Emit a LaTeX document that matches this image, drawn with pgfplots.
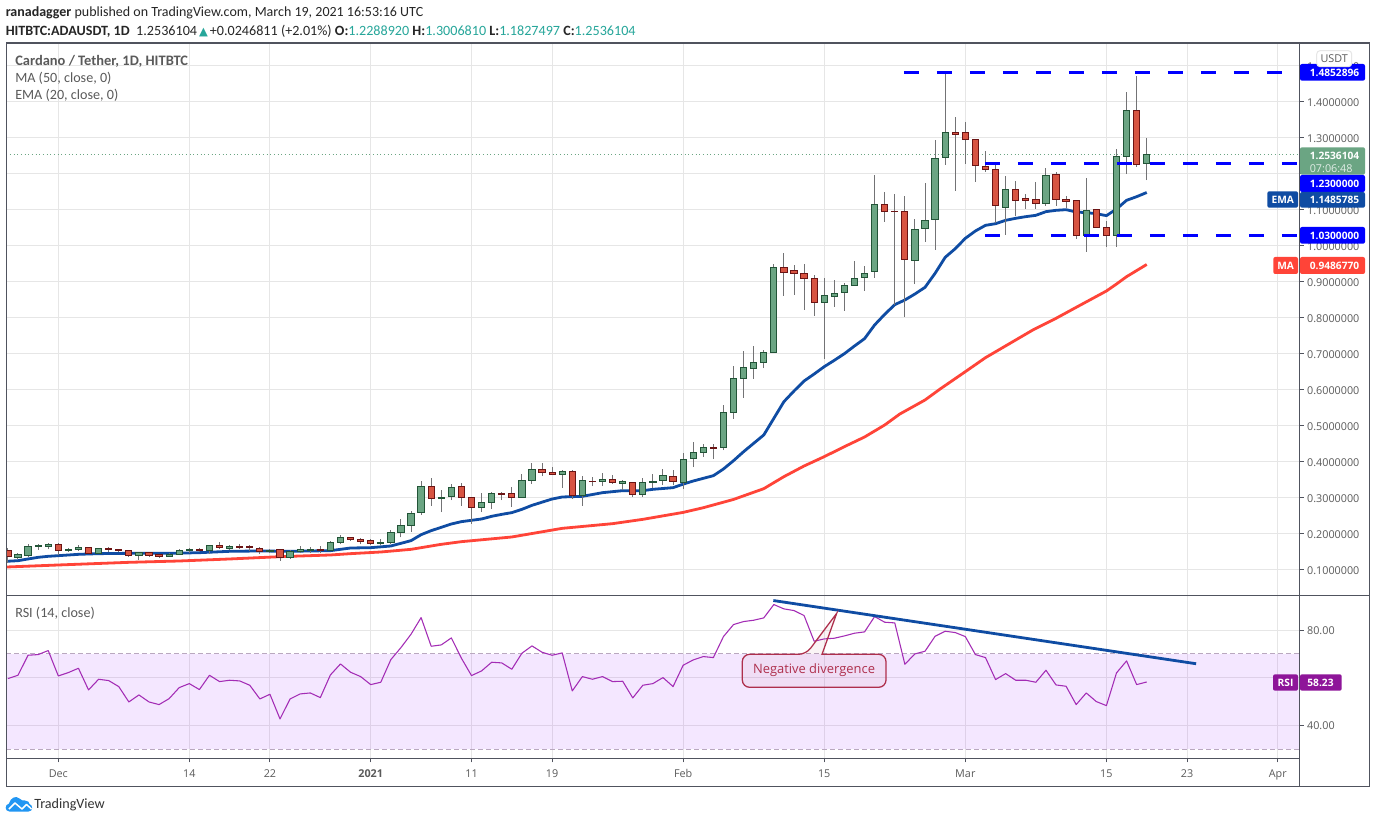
\documentclass[border=0pt]{standalone}
\usepackage{fontspec}
\setmainfont{Carlito}
\newfontfamily\tickfamily{Open Sans}
\newfontfamily\symfamily{DejaVu Sans}
\usepackage{pgfplots}
\pgfplotsset{compat=1.18}

\definecolor{gridc}{HTML}{E6E6E6}
\definecolor{axisc}{HTML}{50535E}
\definecolor{labelc}{HTML}{5A5A5A}
\definecolor{upfill}{HTML}{6BA583}
\definecolor{upline}{HTML}{225437}
\definecolor{dnfill}{HTML}{D75442}
\definecolor{dnline}{HTML}{6B1414}
\definecolor{wick}{HTML}{737375}
\definecolor{emac}{HTML}{0F4CA3}
\definecolor{mac}{HTML}{FF4438}
\definecolor{rsic}{HTML}{A32CB5}
\definecolor{rsitag}{HTML}{8E1599}
\definecolor{bandc}{HTML}{9915FF}
\definecolor{bandline}{HTML}{B9A8BF}
\definecolor{lvl}{HTML}{0000FF}
\definecolor{callc}{HTML}{AE2F4C}
\definecolor{teal}{HTML}{26A69A}
\definecolor{logoc}{HTML}{2196F3}

\newcommand{\tickf}{\tickfamily\fontsize{8.1pt}{9pt}\selectfont}
\newcommand{\tagf}{\tickfamily\bfseries\fontsize{7.65pt}{9pt}\selectfont}
\newcommand{\headf}{\fontsize{10.6pt}{12pt}\selectfont}

\pgfplotsset{
  tv axis/.style={
    scale only axis,
    width=970.05pt,
    xmin=-5.16,xmax=123.18,
    xtick={0,13,21,31,41,49,62,76,90,104,112,121},
    grid=major,
    grid style={gridc,line width=0.75pt},
    axis line style={axisc,line width=0.9pt},
    tick align=outside,
    major tick length=3pt,
    tick style={axisc,line width=0.75pt},
    ytick pos=right,
    yticklabel pos=right,
    yticklabel style={font=\tickf,text=labelc,anchor=west,xshift=-1pt,yshift=-0.4pt},
  },
}
% day, open, high, low, close
\newcommand{\candlebody}[5]{%
  \pgfmathsetmacro{\xa}{#3-0.31}\pgfmathsetmacro{\xb}{#3+0.31}%
  \addplot[draw=#1,fill=#2,line width=0.75pt] coordinates {(\xa,#4) (\xb,#4) (\xb,#5) (\xa,#5)} -- cycle;}
\newcommand{\candleup}[5]{%
  \addplot[wick,line width=0.75pt] coordinates {(#1,#4) (#1,#3)};
  \candlebody{upline}{upfill}{#1}{#2}{#5}}
\newcommand{\candledn}[5]{%
  \addplot[wick,line width=0.75pt] coordinates {(#1,#4) (#1,#3)};
  \candlebody{dnline}{dnfill}{#1}{#2}{#5}}

\begin{document}
\begin{tikzpicture}
\path[use as bounding box,fill=white] (0,0) rectangle (1032pt,-617.25pt);

% price pane, x is days from 1 Dec 2020
\begin{axis}[tv axis,
  at={(4.725pt,-32.25pt)},anchor=north west,
  height=414.225pt,
  ymin=0.0297,ymax=1.5639,
  xticklabels={},
  xtick style={draw=none},
  ytick={0.1,0.2,0.3,0.4,0.5,0.6,0.7,0.8,0.9,1.0,1.1,1.2,1.3,1.4,1.5},
  yticklabels={0.1000000,0.2000000,0.3000000,0.4000000,0.5000000,0.6000000,0.7000000,0.8000000,0.9000000,1.0000000,1.1000000,,1.3000000,1.4000000,1.5000000},
]
\addplot[upfill,line width=0.75pt,dotted] coordinates {(-5.16,1.2536) (123.18,1.2536)};
% 20 EMA
\addplot[emac,line width=2.1pt,line join=round] coordinates {
(-5.15,.1241)(-4,.1259)(-3,.1306)(-2,.1352)(-1,.138)(0,.1398)(2,.1435)(4,.1454)(7,.1463)(11,.1463)(14,.1481)(17,.1519)(20,.1528)(23,.1519)(27,.1537)
(29,.1611)(31,.162)(33,.1667)(35,.1815)(36,.1981)(37,.2093)(39,.2278)(40,.2343)(42,.2417)(43,.2491)(44,.2546)(45,.2593)(46,.2685)(47,.2796)(49,.2972)(50,.3028)(52,.3046)(54,.3148)(56,.3204)(58,.3204)(59,.3241)(61,.3287)
(62,.3385)(63,.3472)(65,.362)(66,.3806)(67,.4037)(68,.4287)(69,.4519)(70,.475)(71,.5213)(72,.5676)(73,.5972)(74,.625)(75,.6444)(76,.6648)(77,.6824)(78,.7009)(79,.7222)(80,.7426)(81,.7806)(82,.8102)
(83,.837)(84,.85)(85,.8667)(86,.8852)(87,.9241)(88,.9685)(89,.9926)(90,1.0213)(91,1.0417)(92,1.0574)(93,1.062)(94,1.0713)(95,1.0769)(96,1.0815)(97,1.0852)(98,1.0954)(99,1.0991)(100,1.1009)(101,1.0944)(102,1.0926)(103,1.0898)(104,1.0843)(105,1.1028)(106,1.1269)(107,1.137)(108,1.1486)
};
% 50 MA
\addplot[mac,line width=2.1pt,line join=round] coordinates {
(-5.15,.1083)(0,.1139)(7,.1213)(12,.125)(17,.1306)(22,.137)(27,.1417)(29,.1454)(32,.15)(35,.1574)(38,.1713)(40,.1787)(45,.1917)(50,.2157)(55,.2287)(58,.2407)(62,.26)(64,.273)(67,.296)(70,.3259)
(72,.3593)(74,.3889)(76,.4148)(78,.4426)(80,.4694)(82,.5028)(83.5,.5333)(86,.5722)(87.5,.6028)(90,.6509)(92,.6898)(95,.7389)(96.7,.7667)(99,.7991)(101,.8296)(104,.875)(105,.8944)(106,.9148)(108,.9487)
};
\candledn{-5}{.1546}{.1602}{.1185}{.1380}
\candleup{-4}{.1361}{.1463}{.1296}{.1417}
\candleup{-3}{.1398}{.1722}{.1370}{.1657}
\candleup{-2}{.1648}{.1722}{.1556}{.1667}
\candleup{-1}{.1648}{.1750}{.1583}{.1713}
\candledn{0}{.1713}{.1750}{.1417}{.1537}
\candleup{1}{.1537}{.1611}{.1500}{.1583}
\candleup{2}{.1565}{.1685}{.1528}{.1630}
\candledn{3}{.1630}{.1630}{.1454}{.1454}
\candleup{4}{.1454}{.1602}{.1454}{.1602}
\candledn{5}{.1611}{.1639}{.1491}{.1565}
\candledn{6}{.1583}{.1583}{.1500}{.1537}
\candledn{7}{.1546}{.1546}{.1370}{.1398}
\candleup{8}{.1398}{.1491}{.1278}{.1491}
\candledn{9}{.1491}{.1491}{.1370}{.1398}
\candledn{10}{.1417}{.1417}{.1333}{.1370}
\candleup{11}{.1370}{.1463}{.1370}{.1435}
\candleup{12}{.1426}{.1574}{.1426}{.1546}
\candleup{13}{.1537}{.1602}{.1472}{.1583}
\candledn{14}{.1583}{.1611}{.1500}{.1537}
\candleup{15}{.1537}{.1685}{.1444}{.1685}
\candledn{16}{.1685}{.1768}{.1583}{.1620}
\candleup{17}{.1611}{.1685}{.1546}{.1657}
\candledn{18}{.1657}{.1713}{.1583}{.1620}
\candledn{19}{.1639}{.1685}{.1528}{.1620}
\candledn{20}{.1602}{.1648}{.1444}{.1519}
\candleup{21}{.1519}{.1583}{.1472}{.1546}
\candledn{22}{.1574}{.1574}{.1259}{.1352}
\candleup{23}{.1352}{.1546}{.1306}{.1519}
\candleup{24}{.1519}{.1657}{.1472}{.1574}
\candleup{25}{.1546}{.1630}{.1472}{.1565}
\candledn{26}{.1574}{.1657}{.1472}{.1537}
\candleup{27}{.1546}{.1796}{.1519}{.1768}
\candleup{28}{.1759}{.1972}{.1722}{.1907}
\candledn{29}{.1907}{.1926}{.1806}{.1843}
\candledn{30}{.1852}{.1880}{.1722}{.1787}
\candledn{31}{.1824}{.1852}{.1694}{.1731}
\candleup{32}{.1731}{.1852}{.1694}{.1769}
\candleup{33}{.1769}{.2102}{.1722}{.2046}
\candleup{34}{.2037}{.2417}{.1907}{.2241}
\candleup{35}{.2232}{.2639}{.2056}{.2574}
\candleup{36}{.2593}{.3472}{.2528}{.3324}
\candledn{37}{.3324}{.3556}{.2778}{.2981}
\candleup{38}{.2981}{.3222}{.2611}{.3019}
\candleup{39}{.3046}{.3380}{.2944}{.3296}
\candledn{40}{.3324}{.3417}{.2778}{.3009}
\candledn{41}{.3019}{.3019}{.2278}{.2731}
\candleup{42}{.2731}{.3139}{.2611}{.2880}
\candleup{43}{.2880}{.3167}{.2694}{.3130}
\candledn{44}{.3130}{.3157}{.2944}{.3093}
\candledn{45}{.3130}{.3306}{.2750}{.3009}
\candleup{46}{.3009}{.3667}{.3009}{.3491}
\candleup{47}{.3482}{.3972}{.3389}{.3796}
\candledn{48}{.3796}{.3972}{.3611}{.3704}
\candledn{49}{.3713}{.3861}{.3639}{.3648}
\candleup{50}{.3648}{.3769}{.3278}{.3741}
\candledn{51}{.3741}{.3769}{.2981}{.3065}
\candleup{52}{.3065}{.3611}{.2778}{.3491}
\candledn{53}{.3472}{.3583}{.3333}{.3445}
\candleup{54}{.3454}{.3695}{.3333}{.3519}
\candledn{55}{.3519}{.3639}{.3389}{.3426}
\candleup{56}{.3398}{.3500}{.3222}{.3445}
\candledn{57}{.3435}{.3435}{.3028}{.3093}
\candleup{58}{.3093}{.3556}{.3028}{.3435}
\candleup{59}{.3426}{.3667}{.3269}{.3472}
\candleup{60}{.3482}{.3806}{.3361}{.3630}
\candledn{61}{.3602}{.3778}{.3361}{.3454}
\candleup{62}{.3426}{.4241}{.3241}{.4074}
\candleup{63}{.4093}{.4556}{.3861}{.4269}
\candleup{64}{.4259}{.4500}{.4139}{.4407}
\candledn{65}{.4407}{.4500}{.4083}{.4370}
\candleup{66}{.4398}{.5584}{.4333}{.5380}
\candleup{67}{.5370}{.6667}{.5195}{.6324}
\candleup{68}{.6324}{.7084}{.5778}{.6630}
\candleup{69}{.6593}{.7223}{.6315}{.6769}
\candleup{70}{.6769}{.7111}{.6611}{.7047}
\candleup{71}{.7047}{.9500}{.7047}{.9408}
\candledn{72}{.9408}{.9806}{.8621}{.9260}
\candledn{73}{.9325}{.9473}{.8649}{.9232}
\candledn{74}{.9241}{.9500}{.8232}{.9093}
\candledn{75}{.9102}{.9195}{.8056}{.8436}
\candleup{76}{.8436}{.9112}{.6861}{.8612}
\candleup{77}{.8593}{.9056}{.8306}{.8686}
\candleup{78}{.8704}{.8973}{.8204}{.8908}
\candleup{79}{.8908}{.9584}{.8908}{.9102}
\candleup{80}{.9121}{.9445}{.8760}{.9241}
\candleup{81}{.9297}{1.197}{.9112}{1.1139}
\candledn{82}{1.1157}{1.1500}{1.0667}{1.0954}
\candledn{83}{1.0972}{1.1445}{.8361}{1.0954}
\candledn{84}{1.0963}{1.1389}{.8037}{.9630}
\candleup{85}{.9602}{1.0750}{.8944}{1.0463}
\candleup{86}{1.0491}{1.1750}{1.0120}{1.0713}
\candleup{87}{1.0741}{1.2945}{.9889}{1.2435}
\candleup{88}{1.2463}{1.4778}{1.2259}{1.3158}
\candledn{89}{1.3158}{1.3583}{1.1537}{1.3102}
\candledn{90}{1.3158}{1.3445}{1.2287}{1.2963}
\candledn{91}{1.2963}{1.2963}{1.1787}{1.2241}
\candledn{92}{1.2213}{1.2639}{1.2065}{1.2130}
\candledn{93}{1.2130}{1.2250}{1.0630}{1.1130}
\candleup{94}{1.1074}{1.1945}{1.0315}{1.1574}
\candledn{95}{1.1574}{1.1806}{1.0843}{1.1269}
\candledn{96}{1.1324}{1.1445}{1.1028}{1.1269}
\candledn{97}{1.1296}{1.1778}{1.1028}{1.1176}
\candleup{98}{1.1176}{1.2167}{1.1120}{1.1963}
\candledn{99}{1.1991}{1.2056}{1.1120}{1.1296}
\candledn{100}{1.1296}{1.1389}{1.1046}{1.1241}
\candledn{101}{1.1269}{1.1269}{1.0204}{1.0296}
\candleup{102}{1.0296}{1.1889}{.9842}{1.0991}
\candledn{103}{1.1019}{1.1019}{1.0519}{1.0519}
\candledn{104}{1.0519}{1.0685}{.9981}{1.0296}
\candleup{105}{1.0296}{1.2695}{.9981}{1.2491}
\candleup{106}{1.2491}{1.4278}{1.2009}{1.3769}
\candledn{107}{1.3769}{1.4723}{1.2204}{1.2269}
\candleup{108}{1.2289}{1.3007}{1.1827}{1.2536}
% support and resistance levels
\addplot[lvl,line width=2.25pt,dash pattern=on 11.25pt off 13.5pt] coordinates {(83.9,1.483) (121.4,1.483)};
\addplot[lvl,line width=2.25pt,dash pattern=on 11.25pt off 13.5pt] coordinates {(91.95,1.23) (122.9,1.23)};
\addplot[lvl,line width=2.25pt,dash pattern=on 11.25pt off 13.5pt] coordinates {(91.95,1.03) (122.9,1.03)};
\end{axis}

% RSI pane
\begin{axis}[tv axis,
  at={(4.725pt,-446.475pt)},anchor=north west,
  height=122.25pt,
  ymin=26.1,ymax=94.7,
  xtick pos=bottom,
  xticklabels={Dec,14,22,\textbf{2021},11,19,Feb,15,Mar,15,23,Apr},
  xticklabel style={font=\tickf,text=labelc,yshift=-1.8pt},
  ytick={40,60,80},
  yticklabels={40.00,,80.00},
]
\addplot[draw=none,fill=bandc,fill opacity=0.1] coordinates {(-5.16,30) (123.18,30) (123.18,70) (-5.16,70)} -- cycle;
\addplot[bandline,line width=0.75pt,dash pattern=on 3.5pt off 2.5pt] coordinates {(-5.16,70) (123.18,70)};
\addplot[bandline,line width=0.75pt,dash pattern=on 3.5pt off 2.5pt] coordinates {(-5.16,30) (123.18,30)};
\addplot[rsic,line width=0.8pt,line join=round] coordinates {
(-5,59.65)(-4,61.05)(-3,69.47)(-2,69.75)(-1,71.44)(0,60.77)(1,62.18)(2,64)(3,54.88)(4,59.37)(5,58.81)(6,56.28)(7,49.82)(8,52.77)(9,49.82)(10,48.7)(11,51.23)(12,55.86)(13,57.54)(14,55.02)(15,61.05)(16,58.39)(17,58.95)(18,58.67)(19,56.84)(20,51.09)(21,53.05)(22,42.67)(23,51.09)(24,53.19)(25,53.61)(26,51.65)(27,61.19)(28,65.82)(29,62.32)(30,60.49)(31,57.12)(32,58.11)(33,67.65)(34,72.7)(35,78.32)(36,85.33)(37,73.26)(38,73.82)(39,76.77)(40,68.21)(41,60.91)(42,62.88)(43,66.53)(44,66.25)(45,63.58)(46,70.32)(47,73.4)(48,70.74)(49,69.47)(50,70.46)(51,54.46)(52,60.49)(53,59.37)(54,60.49)(55,58.39)(56,58.53)(57,51.51)(58,56.84)(59,57.54)(60,60.07)(61,56.28)(62,65.26)(63,67.51)(64,68.91)(65,68.49)(66,77.33)(67,82.39)(68,83.65)(69,84.21)(70,85.19)(71,90.81)(72,88.98)(73,88.28)(74,86.18)(75,75.37)(76,76.35)(77,76.63)(78,77.61)(79,78.74)(80,79.3)(81,85.75)(82,83.37)(83,83.09)(84,65.68)(85,70.04)(86,71.16)(87,77.47)(88,79.58)(89,79.02)(90,77.33)(91,69.75)(92,68.49)(93,59.23)(94,61.75)(95,58.95)(96,58.95)(97,58.11)(98,63.16)(99,56.98)(100,56.42)(101,48.7)(102,53.61)(103,49.96)(104,48.28)(105,62.04)(106,67.09)(107,57.12)(108,58.23)
};
\addplot[emac,line width=2.1pt] coordinates {(70.95,92.5) (112.9,65.9)};
\end{axis}

% frame, tags and text, in reference pixels with y downwards
\begin{scope}[x=0.75pt,y=-0.75pt]
\draw[axisc,line width=0.9pt] (6.3,43) rectangle (1369.3,786.3);
\draw[axisc,line width=0.9pt] (1299.7,43) -- (1299.7,786.3);
\draw[axisc,line width=0.9pt] (1299.7,595.3) -- (1369.3,595.3);

% callout
\draw[callc,line width=0.95pt,fill=callc,fill opacity=0.05,rounded corners=5.5pt]
  (742.3,670) |- (806,654.3) [sharp corners] -- (836.7,613.3) -- (822,654.3)
  [rounded corners=5.5pt] -| (886,670) |- (742.3,687.3) -- cycle;
\node[callc,font=\tickfamily\fontsize{9.7pt}{11pt}\selectfont] at (814,670.5) {Negative divergence};

% price tags
\fill[lvl,rounded corners=1.5pt] (1300,64) rectangle (1365,80.7);
\fill[white,draw=gridc,line width=0.75pt,rounded corners=2.5pt] (1316.7,50.7) rectangle (1351.7,66.7);
\node[labelc,font=\tickf] at (1334.2,58.3) {USDT};
\fill[upfill,rounded corners=1.5pt] (1300,147.3) rectangle (1365,174.7);
\fill[lvl,rounded corners=1.5pt] (1300,175) rectangle (1365,192);
\fill[emac,rounded corners=1.5pt] (1300,192) rectangle (1365,207.7);
\fill[lvl,rounded corners=1.5pt] (1300,227) rectangle (1365,243.7);
\fill[mac,rounded corners=1.5pt] (1300,257) rectangle (1365,274);
\fill[emac,rounded corners=1.5pt] (1267.3,191.3) rectangle (1298,207.7);
\fill[mac,rounded corners=1.5pt] (1273.3,257) rectangle (1298,274);
\fill[rsitag,rounded corners=1.5pt] (1273,674.3) rectangle (1298,690.7);
\fill[rsitag,rounded corners=1.5pt] (1300,674.3) rectangle (1341.7,690.7);
\foreach \yy/\lab in {72.8/1.4852896,155.8/1.2536104,184/1.2300000,200/1.1485785,236/1.0300000,265.8/0.9486770}
  \node[white,font=\tagf,anchor=west,inner sep=0pt] at (1309.5,\yy) {\lab};
\node[white!80!upfill,font=\tickf,anchor=west,inner sep=0pt] at (1309.5,168.5) {07:06:48};
\node[white,font=\tagf] at (1282.8,200) {EMA};
\node[white,font=\tagf] at (1285.6,265.8) {MA};
\node[white,font=\tagf] at (1285.5,682.5) {RSI};
\node[white,font=\tagf] at (1320.5,682.5) {58.23};

% header
\node[black!85,anchor=west,inner sep=0pt,font=\fontsize{10.5pt}{12pt}\selectfont] at (5.5,13) {\textbf{ranadagger} published on TradingView.com, March 19, 2021 16:53:16 UTC};
\node[black!85,anchor=west,inner sep=0pt,font=\headf] at (5.5,31) {\textbf{HITBTC:ADAUSDT, 1D}\ \ 1.2536104\hspace{1.5pt}{\symfamily\fontsize{8.6pt}{9pt}\selectfont\textcolor{teal}{▲}}\hspace{1.5pt}+0.0246811 (+2.01\%)\ \textbf{O:}\textcolor{teal}{1.2288920}\ \textbf{H:}\textcolor{teal}{1.3006810}\ \textbf{L:}\textcolor{teal}{1.1827497}\ \textbf{C:}\textcolor{teal}{1.2536104}};

% pane legends
\node[labelc,anchor=west,inner sep=0pt,font=\fontsize{10.85pt}{12pt}\selectfont\bfseries] at (15,61.5) {Cardano / Tether, 1D, HITBTC};
\node[labelc,anchor=west,inner sep=0pt,font=\headf] at (15,78.5) {MA (50, close, 0)};
\node[labelc,anchor=west,inner sep=0pt,font=\headf] at (15,95.5) {EMA (20, close, 0)};
\node[labelc,anchor=west,inner sep=0pt,font=\headf] at (15,613) {RSI (14, close)};

% footer logo
\fill[logoc] (9.5,811.5) .. controls (4.5,811.5) and (4.5,804.5) .. (9,803.5) .. controls (10.5,798) and (15.5,795) .. (19.5,798.5) .. controls (21,800.5) and (23,800.5) .. (25,800.5) .. controls (28,800.5) and (29.5,802.5) .. (29.5,804) .. controls (33,805) and (33.5,811.5) .. (28.5,811.5) -- cycle;
\draw[white,line width=1.1pt,line join=round] (9,809) -- (15,803) -- (22,809) -- (26.5,804.5) -- (31.5,809);
\node[black!80,anchor=west,inner sep=0pt,font=\headf] at (34,805) {TradingView};
\end{scope}
\end{tikzpicture}
\end{document}
